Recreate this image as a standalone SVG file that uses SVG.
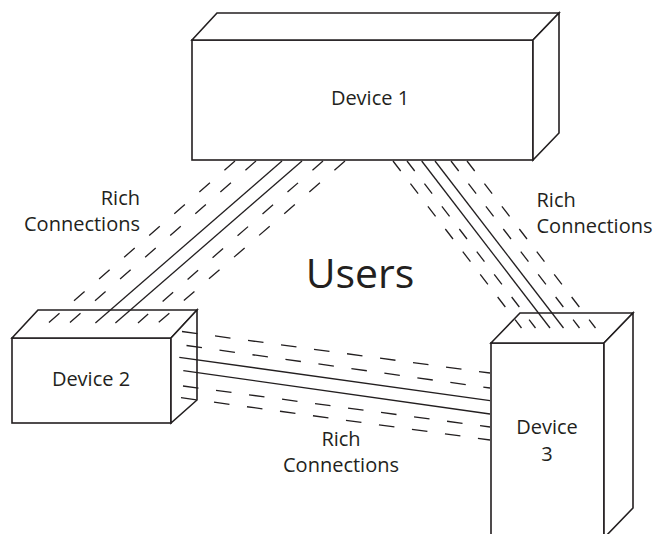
<svg xmlns="http://www.w3.org/2000/svg" width="654" height="534" viewBox="0 0 654 534">
<style>
.box{fill:#fff;stroke:#231f20;stroke-width:1.6;stroke-linejoin:miter}
.lbl{font-family:"Open Sans","Liberation Sans",sans-serif;font-size:20px;fill:#231f20}
.big{font-family:"Open Sans","Liberation Sans",sans-serif;font-size:41px;fill:#231f20}
.s{stroke:#231f20;stroke-width:1.3;fill:none}
.dL{stroke:#231f20;stroke-width:1.3;fill:none;stroke-dasharray:14 19.2}
.dR{stroke:#231f20;stroke-width:1.3;fill:none;stroke-dasharray:12.6 16}
.dB{stroke:#231f20;stroke-width:1.3;fill:none;stroke-dasharray:15.6 17.7}
</style>
<rect width="654" height="534" fill="#fff"/>
<g id="device1">
<rect class="box" x="192" y="40" width="341" height="120"/>
<polygon class="box" points="192,40 217,13 559,13 533,40"/>
<polygon class="box" points="533,40 559,13 559,133 533,160"/>
<text class="lbl" x="370" y="105" text-anchor="middle">Device 1</text>
</g>
<g id="device2">
<rect class="box" x="12" y="338" width="159" height="85"/>
<polygon class="box" points="12,338 38,310 197,310 171,338"/>
<polygon class="box" points="171,338 197,310 197,400 171,423"/>
<text class="lbl" x="91" y="386" text-anchor="middle">Device 2</text>
</g>
<g id="device3">
<rect class="box" x="491" y="343" width="113" height="200"/>
<polygon class="box" points="491,343 520,313 633,313 604,343"/>
<polygon class="box" points="604,343 633,313 633,508 604,538"/>
<text class="lbl" x="547" y="434" text-anchor="middle">Device</text>
<text class="lbl" x="547" y="461" text-anchor="middle">3</text>
</g>
<g id="connectors">
<line class="dL" x1="235" y1="161" x2="48.4" y2="323"/>
<line class="dL" x1="256" y1="161" x2="69.4" y2="323"/>
<line class="s" x1="282" y1="161" x2="95.4" y2="323"/>
<line class="s" x1="302" y1="161" x2="115.4" y2="323"/>
<line class="dL" x1="323" y1="161" x2="138" y2="323"/>
<line class="dL" x1="345" y1="161" x2="158" y2="323"/>
<line class="dR" x1="393" y1="161" x2="521.5" y2="328"/>
<line class="dR" x1="407" y1="161" x2="535.5" y2="328"/>
<line class="s" x1="421.7" y1="161" x2="550" y2="328"/>
<line class="s" x1="435" y1="161" x2="563.5" y2="328"/>
<line class="dR" x1="451" y1="161" x2="579.5" y2="328"/>
<line class="dR" x1="467" y1="161" x2="595.5" y2="328"/>
<line class="dB" x1="182" y1="331.5" x2="490" y2="373"/>
<line class="dB" x1="186.5" y1="345.5" x2="490" y2="388"/>
<line class="s" x1="179.3" y1="357.3" x2="490" y2="400.7"/>
<line class="s" x1="183.3" y1="370.7" x2="490" y2="414"/>
<line class="dB" x1="183" y1="386" x2="490" y2="427"/>
<line class="dB" x1="181" y1="397.7" x2="490" y2="440"/>
</g>
<g id="labels">
<text class="big" x="360" y="288" text-anchor="middle">Users</text>
<text class="lbl" x="140" y="205" text-anchor="end">Rich</text>
<text class="lbl" x="140" y="231" text-anchor="end">Connections</text>
<text class="lbl" x="536.5" y="207" text-anchor="start">Rich</text>
<text class="lbl" x="536.5" y="233" text-anchor="start">Connections</text>
<text class="lbl" x="341" y="446" text-anchor="middle">Rich</text>
<text class="lbl" x="341" y="472" text-anchor="middle">Connections</text>
</g>
</svg>
